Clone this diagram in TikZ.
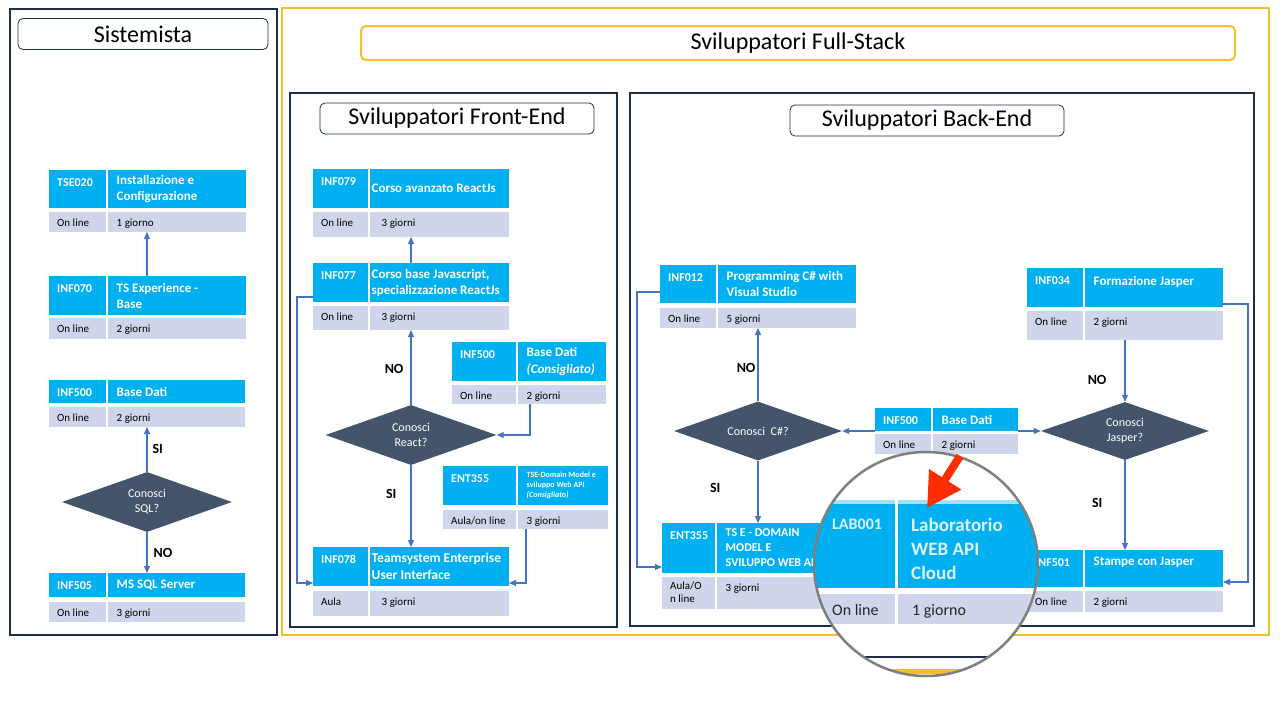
\documentclass[tikz,border=0pt]{standalone}
\usepackage{fontspec}
\setmainfont{Carlito}
\usetikzlibrary{arrows.meta,positioning,calc,shapes.geometric}
\definecolor{boxcyan}{HTML}{00B0F0}
\definecolor{rowgrey}{HTML}{CFD5EA}
\definecolor{decslate}{HTML}{44546A}
\definecolor{flowblue}{HTML}{4472C4}
\definecolor{panelnavy}{HTML}{1E2F45}
\definecolor{stackgold}{HTML}{F4BE2C}
\definecolor{lensgrey}{HTML}{7F7F7F}
\definecolor{pointred}{HTML}{FF2D00}
\definecolor{lenstext}{HTML}{DDF2FB}
\definecolor{lensglow}{HTML}{A6E0F7}
\tikzset{
  % ---- frames and headings --------------------------------------------
  panel/.style={draw=panelnavy, line width=1.2pt},
  stackframe/.style={draw=stackgold, line width=2pt},
  headbox/.style={draw=panelnavy, line width=0.8pt, fill=white,
    rounded corners=5pt, inner sep=0, font=\fontsize{24}{28}\selectfont},
  % ---- course cells ---------------------------------------------------
  hcell/.style={fill=boxcyan, inner sep=0, outer sep=0, anchor=north west},
  gcell/.style={fill=rowgrey, inner sep=0, outer sep=0, anchor=north west},
  codetext/.style={anchor=base west, inner sep=0, text=white,
    font=\fontsize{12}{14}\selectfont\bfseries},
  titletext/.style={anchor=west, inner sep=0, text=white, align=left},
  rowtext/.style={anchor=north west, inner sep=0, text=black, align=left,
    font=\fontsize{11}{13}\selectfont, execute at begin node=\strut},
  % ---- decisions and connections --------------------------------------
  decision/.style={diamond, aspect=2.8, fill=decslate, text=white,
    inner sep=0, align=center, font=\fontsize{12}{15}\selectfont},
  flow/.style={draw=flowblue, line width=1.1pt,
    -{Triangle[length=7pt,width=6pt]}},
  yesno/.style={inner sep=0, text=black,
    font=\fontsize{14}{16}\selectfont\bfseries},
  % ---- magnifier ------------------------------------------------------
  lensrim/.style={draw=lensgrey, line width=2.5pt},
  lenscode/.style={anchor=base west, inner sep=0, text=lenstext,
    font=\fontsize{16}{19}\selectfont\bfseries},
  lenstitle/.style={anchor=north west, inner sep=0, text=lenstext, align=left,
    font=\fontsize{19}{24}\selectfont\bfseries, execute at begin node=\strut},
  lensrow/.style={anchor=base west, inner sep=0, text=black!85,
    font=\fontsize{16}{19}\selectfont},
  pointer/.style={draw=pointred, line width=8pt,
    -{Triangle[length=34pt,width=36pt]}},
}

% one course: code | title on top, mode | duration below
\pgfkeys{/crs/.cd,
  cw/.store in=\crscw, tw/.store in=\crstw,
  hh/.store in=\crshh, rh/.store in=\crsrh,
  gap/.store in=\crsgap, tp/.store in=\crstp,
  dp/.store in=\crsdp, ty/.store in=\crsty,
  tf/.store in=\crstf}
\newcommand{\course}[7][]{%
  \pgfkeys{/crs/.cd, cw=57, tw=138.5, hh=38, rh=20, gap=4, tp=9, dp=9, ty=0,
    tf={\fontsize{13}{16}\selectfont}, #1}%
  \node[hcell, minimum width=\crscw pt, minimum height=\crshh pt] (#2-c) at (#3) {};
  \node[hcell, minimum width=\crstw pt, minimum height=\crshh pt] (#2-t)
    at ([xshift=1.5pt]#2-c.north east) {};
  \node[gcell, minimum width=\crscw pt, minimum height=\crsrh pt] (#2-m)
    at ([yshift=-\crsgap pt]#2-c.south west) {};
  \node[gcell, minimum width=\crstw pt, minimum height=\crsrh pt] (#2-d)
    at ([xshift=1.5pt]#2-m.north east) {};
  \node[codetext] (#2-cl) at ([xshift=8pt, yshift=-16pt]#2-c.north west) {#4};
  \node[titletext, font=\crstf\bfseries] (#2-tl)
    at ([xshift=\crstp pt, yshift=\crsty pt]#2-t.west) {#5};
  \node[rowtext] (#2-ml) at ([xshift=8pt, yshift=-5pt]#2-m.north west) {#6};
  \node[rowtext] (#2-dl) at ([xshift=\crsdp pt, yshift=-5pt]#2-d.north west) {#7};
}

\begin{document}
\begin{tikzpicture}[x=1pt, y=-1pt]
\useasboundingbox (0,0) rectangle (1280,720);

% ---- frames ----------------------------------------------------------
\draw[panel] (10,9) rectangle (277,635);
\draw[stackframe] (282,8) rectangle (1269,635);
\draw[panel] (290,93) rectangle (617,627);
\draw[panel] (630,93) rectangle (1254,626);

\node[headbox, minimum width=250pt, minimum height=31pt] (hsis) at (143,34) {Sistemista};
\node[headbox, draw=stackgold, line width=2pt, minimum width=874pt, minimum height=34pt]
  (hfull) at (798,43) {Sviluppatori Full-Stack};
\node[headbox, minimum width=274pt, minimum height=31pt] (hfront) at (457,118.5) {Sviluppatori Front-End};
\node[headbox, minimum width=274pt, minimum height=31pt] (hback) at (927,120.5) {Sviluppatori Back-End};

% ---- sistemista ------------------------------------------------------
\course[hh=38,rh=20,gap=4]{tse020}{49,170}{TSE020}{Installazione e\\Configurazione}{On line}{1 giorno}
\course[hh=39,rh=21,gap=3]{inf070}{49,276}{INF070}{TS Experience -\\Base}{On line}{2 giorni}
\course[hh=23,rh=20,gap=4,tw=137.5]{inf500s}{49,380}{INF500}{Base Dati}{On line}{2 giorni}
\course[hh=24,rh=20,gap=5,tw=137.5]{inf505}{49,573}{INF505}{MS SQL Server}{On line}{3 giorni}

\node[decision, minimum width=170pt, minimum height=60pt] (dsql) at (147,502) {Conosci\\SQL?};

\draw[flow] (dsql.north |- inf070-t.north) -- (dsql.north |- tse020-d.south);
\draw[flow] (dsql.north) -- (dsql.north |- inf500s-d.south)
  node[yesno, midway, right=5pt] (lsisql) {SI};
\draw[flow] (dsql.south) -- (dsql.south |- inf505-t.north)
  node[yesno, midway, right=6pt] (lnosql) {NO};

% ---- front-end -------------------------------------------------------
\course[cw=55,tw=139.5,hh=39,rh=25,tp=2,dp=12]{inf079}{313,169}{INF079}{Corso avanzato ReactJs}{On line}{3 giorni}
\course[cw=55,tw=139.5,hh=39,rh=24,tp=2,dp=12]{inf077}{313,263}{INF077}{Corso base Javascript,\\specializzazione ReactJs}{On line}{3 giorni}
\course[cw=64,tw=88.5,hh=39,rh=19,tf={\fontsize{13}{17}\selectfont}]{inf500f}{452,342}{INF500}{Base Dati\\\textit{(Consigliato)}}{On line}{2 giorni}
\course[cw=73,tw=90.5,hh=39,rh=19,gap=5,tf={\fontsize{8}{10}\selectfont}]{ent355f}{443,466}{ENT355}{TSE-Domain Model e\\sviluppo Web API\\\textit{(Consigliato)}}{Aula/on line}{3 giorni}
\course[cw=55,tw=139.5,hh=39,rh=25,gap=5,tp=2,dp=12,tf={\fontsize{13.5}{17}\selectfont}]{inf078}{313,547}{INF078}{Teamsystem Enterprise\\User Interface}{Aula}{3 giorni}

\node[decision, minimum width=171pt, minimum height=60pt] (dreact) at (411,435) {Conosci\\React?};

\draw[flow] (dreact.north |- inf077-t.north) -- (dreact.north |- inf079-d.south);
\draw[flow] (dreact.north) -- (dreact.north |- inf077-d.south)
  node[yesno, pos=0.48, left=7pt] (lnoreact) {NO};
\draw[flow] (dreact.south) -- (dreact.south |- inf078-t.north)
  node[yesno, pos=0.35, left=14pt] (lsireact) {SI};
\draw[flow] ([xshift=12.5pt]inf500f-d.south west) |- (dreact.east);
\draw[flow] ([xshift=8.5pt]ent355f-d.south west) |- ([yshift=3pt]inf078-t.south east);
\draw[flow] ([yshift=5pt]inf077-c.south west) -- ++(-16,0) |- ([yshift=3pt]inf078-c.south west);

% ---- back-end --------------------------------------------------------
\course[cw=56,tw=138.5,hh=38,rh=20,gap=5]{inf012}{660,265}{INF012}{Programming C\# with\\Visual Studio}{On line}{5 giorni}
\course[cw=56,tw=85.5,hh=23,rh=20,gap=3]{inf500b}{875,408}{INF500}{Base Dati}{On line}{2 giorni}
\course[cw=56,tw=138.5,hh=39,rh=29,gap=4,ty=6]{inf034}{1027,268}{INF034}{Formazione Jasper}{On line}{2 giorni}
\course[cw=53,tw=141.5,hh=50,rh=32,gap=4,tf={\fontsize{12}{15}\selectfont}]{ent355b}{662,523}{ENT355}{TS E - DOMAIN\\MODEL E\\SVILUPPO WEB API}{Aula/O\\n line}{3 giorni}
\course[cw=56,tw=138.5,hh=37,rh=21,gap=4,ty=6]{inf501}{1027,550}{INF501}{Stampe con Jasper}{On line}{2 giorni}

\node[decision, minimum width=168pt, minimum height=59pt] (dcsharp) at (758,431) {Conosci~ C\#?};
\node[decision, minimum width=168pt, minimum height=58pt] (djasper) at (1125,431) {Conosci\\Jasper?};

\draw[flow] (dcsharp.north) -- (dcsharp.north |- inf012-d.south)
  node[yesno, pos=0.46, left=2pt] (lnocs) {NO};
\draw[flow] (dcsharp.south) -- (dcsharp.south |- ent355b-t.north)
  node[yesno, pos=0.44, left=37pt] (lsics) {SI};
\draw[flow] (inf500b-c.south west) -- (dcsharp.east);
\draw[flow] (inf500b-t.south east) -- (djasper.west);
\draw[flow] (djasper.north |- inf034-d.south) -- (djasper.north)
  node[yesno, pos=0.65, left=18pt] (lnojas) {NO};
\draw[flow] (djasper.south) -- (djasper.south |- inf501-t.north)
  node[yesno, pos=0.48, left=22pt] (lsijas) {SI};
\draw[flow] ([yshift=11pt]inf012-c.south west) -- ++(-23,0) |- ([yshift=6pt]ent355b-c.south west);
\draw[flow] ([yshift=3pt]inf034-t.south east) -- ++(25,0) |- ([yshift=5pt]inf501-t.south east);

% ---- magnifier -------------------------------------------------------
\coordinate (lens) at (926,564);
\begin{scope}
  \clip (lens) circle (112);
  \fill[white] (lens) circle (112);
  \fill[lensglow] (800,500) rectangle (1050,505);
  \fill[boxcyan] (800,504) rectangle (1050,588);
  \fill[rowgrey] (800,594) rectangle (1050,624);
  \draw[white, line width=3pt] (896,490) -- (896,630);
  \draw[panelnavy, line width=1.5pt] (800,657) -- (1050,657);
  \draw[stackgold, line width=5pt] (800,671) -- (1050,671);
  \node[lenscode] (lab001) at (832,529) {LAB001};
  \node[lenstitle] (labtitle) at (911,518) {Laboratorio\\WEB API\\Cloud};
  \node[lensrow] (labmode) at (832,615) {On line};
  \node[lensrow] (labdur) at (912,615) {1 giorno};
\end{scope}
\draw[lensrim] (lens) circle (112);
\draw[pointer] (960,456) -- (927,508);

\end{tikzpicture}
\end{document}
